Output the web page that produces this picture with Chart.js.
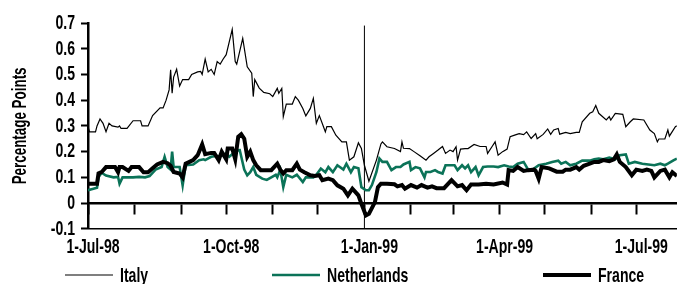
<!DOCTYPE html>
<html>
<head>
<meta charset="utf-8">
<script src="https://cdn.jsdelivr.net/npm/chart.js@4.4.0/dist/chart.umd.min.js"></script>
<style>
  html, body { margin: 0; padding: 0; background: #fff; }
  #c { display: block; }
</style>
</head>
<body>
<canvas id="c" width="682" height="284"></canvas>
<script>
var FONT = "'Liberation Sans', Arial, sans-serif";
var NARROW = 0.67; // the original uses a condensed face, squeeze text horizontally

// x values are days counted from 1-Jul-98
var monthStarts = [0, 31, 62, 92, 123, 153, 184, 215, 243, 274, 304, 335, 365];
var labelDays = [0, 92, 184, 274, 365];
var labelText = ['1-Jul-98', '1-Oct-98', '1-Jan-99', '1-Apr-99', '1-Jul-99'];
var yTicks = [-0.1, 0, 0.1, 0.2, 0.3, 0.4, 0.5, 0.6, 0.7];
var euroDay = 184;

var italyDays = [0, 1, 5, 6, 8, 10, 12, 14, 16, 20, 21, 22, 26, 30, 35, 36, 40, 43, 48, 50,
  52, 54, 55, 56, 57, 59, 61, 63, 67, 69, 73, 75, 76, 78, 80, 82, 84, 86, 88, 90,
  92, 96, 98, 99, 103, 106, 109, 110, 111, 114, 117, 121, 123, 126, 127, 129, 130, 132, 136, 138,
  140, 143, 145, 148, 150, 152, 154, 158, 159, 162, 165, 169, 172, 174, 177, 180, 182, 184, 187, 192,
  195, 196, 199, 204, 208, 209, 210, 214, 217, 221, 225, 227, 230, 233, 236, 238, 241, 243, 245, 246,
  248, 251, 253, 257, 261, 265, 266, 269, 271, 273, 276, 279, 281, 284, 287, 290, 292, 295, 298, 299,
  303, 306, 308, 310, 313, 314, 318, 321, 325, 327, 329, 334, 336, 338, 340, 345, 347, 348, 351, 356,
  358, 361, 363, 370, 374, 377, 379, 380, 384, 386, 387, 391, 392];
var italyVals = [0.297, 0.277, 0.277, 0.30, 0.327, 0.31, 0.277, 0.31, 0.30, 0.295, 0.30, 0.29, 0.29, 0.32, 0.32, 0.30, 0.30, 0.34, 0.37, 0.37,
  0.40, 0.44, 0.518, 0.427, 0.49, 0.52, 0.455, 0.48, 0.48, 0.50, 0.51, 0.512, 0.50, 0.56, 0.51, 0.52, 0.50, 0.55, 0.54, 0.56,
  0.577, 0.675, 0.55, 0.54, 0.64, 0.53, 0.505, 0.414, 0.48, 0.447, 0.43, 0.425, 0.414, 0.446, 0.427, 0.446, 0.336, 0.385, 0.385, 0.414,
  0.40, 0.368, 0.339, 0.368, 0.407, 0.31, 0.34, 0.277, 0.297, 0.297, 0.264, 0.238, 0.238, 0.167, 0.18, 0.234, 0.212, 0.147, 0.085, 0.167,
  0.23, 0.238, 0.219, 0.212, 0.2, 0.238, 0.213, 0.212, 0.2, 0.184, 0.167, 0.18, 0.193, 0.206, 0.22, 0.193, 0.206, 0.2, 0.219, 0.167,
  0.21, 0.212, 0.212, 0.228, 0.22, 0.22, 0.193, 0.22, 0.238, 0.186, 0.2, 0.21, 0.258, 0.264, 0.27, 0.266, 0.277, 0.251, 0.27, 0.25,
  0.267, 0.288, 0.267, 0.284, 0.29, 0.268, 0.275, 0.27, 0.275, 0.275, 0.316, 0.349, 0.355, 0.379, 0.349, 0.323, 0.336, 0.323, 0.349, 0.345,
  0.297, 0.316, 0.327, 0.323, 0.284, 0.27, 0.238, 0.249, 0.249, 0.284, 0.26, 0.297, 0.30];

var nlDays = [0, 3, 6, 7, 9, 12, 17, 20, 21, 23, 30, 34, 38, 41, 45, 49, 51, 53, 55, 56,
  57, 61, 63, 65, 70, 74, 77, 78, 82, 85, 88, 92, 94, 96, 99, 101, 104, 106, 108, 110,
  112, 116, 119, 122, 125, 126, 128, 130, 132, 136, 139, 143, 145, 150, 152, 155, 158, 160, 163, 166,
  170, 172, 175, 177, 180, 182, 185, 187, 189, 192, 194, 196, 199, 202, 205, 208, 210, 214, 215, 218,
  221, 224, 225, 228, 231, 233, 236, 238, 241, 244, 246, 249, 251, 253, 255, 258, 260, 263, 266, 270,
  273, 277, 280, 283, 286, 290, 293, 296, 300, 305, 309, 313, 315, 318, 321, 325, 329, 334, 337, 340,
  343, 347, 351, 354, 358, 360, 364, 369, 373, 377, 381, 384, 386, 390, 392];
var nlVals = [0.05, 0.055, 0.06, 0.10, 0.118, 0.107, 0.10, 0.102, 0.075, 0.10, 0.10, 0.102, 0.10, 0.105, 0.13, 0.14, 0.18, 0.14, 0.13, 0.20,
  0.14, 0.14, 0.069, 0.147, 0.15, 0.167, 0.17, 0.167, 0.18, 0.183, 0.182, 0.193, 0.18, 0.19, 0.205, 0.206, 0.13, 0.108, 0.12, 0.14,
  0.11, 0.095, 0.09, 0.10, 0.11, 0.10, 0.13, 0.062, 0.11, 0.10, 0.11, 0.082, 0.10, 0.10, 0.11, 0.134, 0.12, 0.14, 0.12, 0.147,
  0.13, 0.153, 0.12, 0.14, 0.135, 0.062, 0.05, 0.05, 0.07, 0.121, 0.173, 0.16, 0.16, 0.128, 0.14, 0.14, 0.15, 0.16, 0.128, 0.14,
  0.135, 0.10, 0.121, 0.121, 0.128, 0.121, 0.115, 0.147, 0.147, 0.147, 0.128, 0.147, 0.135, 0.147, 0.12, 0.14, 0.108, 0.14, 0.142, 0.142,
  0.14, 0.147, 0.142, 0.14, 0.153, 0.16, 0.13, 0.13, 0.147, 0.153, 0.16, 0.165, 0.153, 0.16, 0.147, 0.153, 0.165, 0.165, 0.17, 0.173,
  0.17, 0.177, 0.17, 0.186, 0.189, 0.153, 0.16, 0.153, 0.15, 0.147, 0.153, 0.147, 0.153, 0.167, 0.173];

var franceDays = [0, 5, 6, 7, 9, 12, 18, 20, 21, 23, 27, 29, 34, 37, 40, 43, 46, 50, 53, 55,
  57, 61, 63, 65, 70, 73, 76, 78, 82, 84, 87, 89, 92, 93, 96, 98, 100, 102, 104, 106,
  108, 110, 112, 115, 118, 122, 126, 128, 130, 132, 136, 139, 141, 144, 148, 151, 154, 156, 160, 163,
  166, 170, 173, 176, 180, 182, 185, 187, 191, 193, 195, 199, 204, 206, 209, 211, 215, 219, 222, 226,
  229, 232, 237, 242, 246, 249, 252, 255, 260, 265, 270, 276, 279, 280, 283, 286, 290, 293, 297, 298,
  300, 302, 307, 312, 316, 318, 321, 325, 327, 330, 334, 337, 340, 343, 347, 350, 352, 354, 358, 362,
  365, 369, 372, 375, 377, 381, 384, 387, 389, 392];
var franceVals = [0.075, 0.075, 0.075, 0.115, 0.12, 0.14, 0.14, 0.12, 0.14, 0.14, 0.125, 0.14, 0.14, 0.12, 0.12, 0.135, 0.15, 0.16, 0.155, 0.145,
  0.121, 0.115, 0.10, 0.153, 0.167, 0.186, 0.228, 0.19, 0.195, 0.195, 0.167, 0.2, 0.17, 0.212, 0.212, 0.17, 0.258, 0.268, 0.25, 0.18,
  0.2, 0.167, 0.147, 0.128, 0.128, 0.128, 0.153, 0.13, 0.115, 0.128, 0.128, 0.153, 0.13, 0.12, 0.108, 0.105, 0.108, 0.089, 0.095, 0.089,
  0.069, 0.056, 0.03, 0.056, 0.03, -0.003, -0.048, -0.042, 0.004, 0.062, 0.075, 0.075, 0.073, 0.065, 0.07, 0.056, 0.07, 0.06, 0.07, 0.06,
  0.065, 0.058, 0.058, 0.089, 0.065, 0.07, 0.05, 0.072, 0.072, 0.075, 0.072, 0.08, 0.072, 0.128, 0.125, 0.14, 0.125, 0.128, 0.13, 0.125,
  0.095, 0.14, 0.135, 0.122, 0.122, 0.13, 0.13, 0.14, 0.13, 0.145, 0.153, 0.16, 0.16, 0.167, 0.163, 0.17, 0.189, 0.16, 0.14, 0.108,
  0.13, 0.125, 0.13, 0.125, 0.10, 0.125, 0.13, 0.10, 0.12, 0.105];

function pts(days, vals) {
  return days.map(function (d, i) { return { x: d, y: vals[i] }; });
}

// squeeze every piece of text around its anchor point
var canvas = document.getElementById('c');
var ctx = canvas.getContext('2d');
var rawFillText = ctx.fillText;
ctx.fillText = function (text, x, y, maxWidth) {
  this.save();
  this.translate(x, y);
  this.scale(NARROW, 1);
  if (maxWidth === undefined) rawFillText.call(this, text, 0, 0);
  else rawFillText.call(this, text, 0, 0, maxWidth / NARROW);
  this.restore();
};

// legend drawn by hand so the items can sit far apart like the original
var legendPos = [65, 272, 543];
var bottomLegend = {
  id: 'bottomLegend',
  afterDraw: function (chart) {
    var c = chart.ctx;
    var y = 275;
    var k = 0;
    c.save();
    chart.data.datasets.forEach(function (ds) {
      if (!ds.label) return;
      var x = legendPos[k++];
      c.beginPath();
      c.strokeStyle = ds.borderColor;
      c.lineWidth = ds.borderWidth;
      c.moveTo(x, y);
      c.lineTo(x + 48, y);
      c.stroke();
      c.fillStyle = '#000';
      c.font = 'bold 21px ' + FONT;
      c.textBaseline = 'middle';
      c.textAlign = 'left';
      c.fillText(ds.label, x + 55, y + 1);
    });
    c.restore();
  }
};

new Chart(canvas, {
  type: 'line',
  data: {
    datasets: [{
      label: 'Italy',
      data: pts(italyDays, italyVals),
      borderColor: '#000',
      borderWidth: 1.2,
      order: 2
    }, {
      label: 'Netherlands',
      data: pts(nlDays, nlVals),
      borderColor: '#0b7358',
      borderWidth: 2.6,
      order: 1
    }, {
      label: 'France',
      data: pts(franceDays, franceVals),
      borderColor: '#000',
      borderWidth: 4,
      order: 0
    }, {
      label: '',
      data: [{ x: euroDay, y: -0.1 }, { x: euroDay, y: 0.69 }],
      borderColor: '#000',
      borderWidth: 1,
      order: 3
    }]
  },
  options: {
    responsive: false,
    devicePixelRatio: 1,
    animation: false,
    elements: { point: { radius: 0 }, line: { tension: 0, borderJoinStyle: 'miter' } },
    layout: { padding: { top: 23, right: 0, bottom: 18, left: 0 } },
    plugins: { legend: { display: false }, tooltip: { enabled: false } },
    scales: {
      x: {
        type: 'linear', min: 0, max: 392,
        afterBuildTicks: function (s) { s.ticks = labelDays.map(function (v) { return { value: v }; }); },
        ticks: {
          callback: function (v) { return labelText[labelDays.indexOf(v)]; },
          font: { family: FONT, size: 21, weight: 'bold' }, color: '#000',
          padding: 6, labelOffset: 5, maxRotation: 0, autoSkip: false
        },
        grid: { display: false, drawTicks: false },
        border: { display: true, color: '#000', width: 1.5 }
      },
      x2: {
        type: 'linear', min: 0, max: 392,
        position: { y: 0 },
        afterBuildTicks: function (s) { s.ticks = monthStarts.map(function (v) { return { value: v }; }); },
        afterFit: function (s) { s.height = 0; },
        ticks: { display: false },
        grid: { drawOnChartArea: false, drawTicks: true, tickLength: 10, tickWidth: 2, tickColor: '#000', color: '#000' },
        border: { display: true, color: '#000', width: 2.5 }
      },
      y: {
        min: -0.1, max: 0.7,
        afterBuildTicks: function (s) { s.ticks = yTicks.map(function (v) { return { value: v }; }); },
        afterFit: function (s) { s.width = 88; },
        ticks: {
          callback: function (v) { return String(Math.round(v * 10) / 10); },
          font: { family: FONT, size: 21, weight: 'bold' }, color: '#000', padding: 6, autoSkip: false
        },
        grid: { drawOnChartArea: false, tickLength: 7, tickWidth: 2, tickColor: '#000' },
        border: { display: true, color: '#000', width: 2.5 },
        title: {
          display: true, text: 'Percentage Points',
          font: { family: FONT, size: 20, weight: 'bold' }, color: '#000',
          padding: { top: 8, bottom: 0 }
        }
      }
    }
  },
  plugins: [bottomLegend]
});
</script>
</body>
</html>
